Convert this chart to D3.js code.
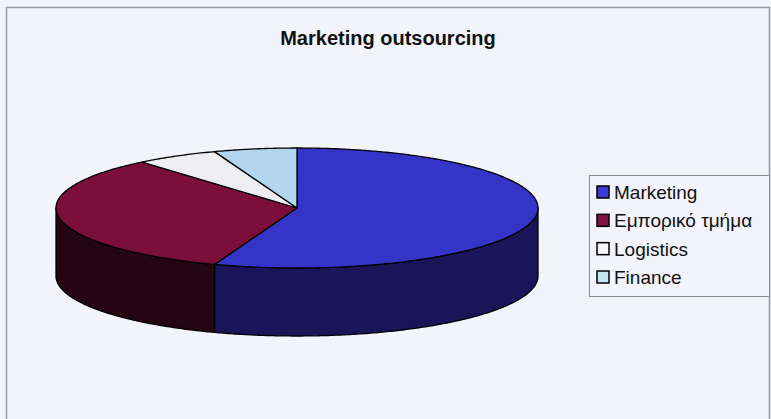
<!DOCTYPE html>
<html>
<head>
<meta charset="utf-8">
<script src="https://cdn.jsdelivr.net/npm/d3@7/dist/d3.min.js"></script>
<style>
  html, body { margin: 0; padding: 0; background: #f2f3fb; }
  svg { display: block; }
  text { font-family: "Liberation Sans", Arial, sans-serif; }
</style>
</head>
<body>
<svg id="chart" width="771" height="419"></svg>
<script>
// Survey answers: which department handles marketing outsourcing
const categories = ["Marketing", "Εμπορικό τμήμα", "Logistics", "Finance"];
const values = [10, 6, 1, 1];
const topColors = ["#3434c8", "#7c0e3a", "#eeeef2", "#b2d6f0"];
const sideColors = ["#1a1558", "#260512", "#9a9aa0", "#6a8aa0"];
const legendColors = ["#3a3ad0", "#801440", "#f4f4f6", "#c2e6f2"];
const title = "Marketing outsourcing";

const svg = d3.select("#chart");
const W = 771, H = 419;

// background and frame
svg.append("rect").attr("width", W).attr("height", H).attr("fill", "#f2f3fb");
svg.append("rect")
  .attr("x", 6.5).attr("y", 7.5).attr("width", 763).attr("height", 420)
  .attr("fill", "none").attr("stroke", "#9a9a9e").attr("stroke-width", 1.5);

svg.append("text")
  .attr("x", 388).attr("y", 45)
  .attr("text-anchor", "middle")
  .attr("font-size", 20).attr("font-weight", "bold")
  .attr("fill", "#111")
  .text(title);

// Tilted pie geometry
const cx = 297, cy = 208, rx = 241, ry = 60, depth = 68;
const pie = d3.pie().sort(null).value(d => d)(values);

const px = a => cx + rx * Math.sin(a);
const py = a => cy - ry * Math.cos(a);

function arcPoints(a0, a1, dy) {
  const n = Math.max(2, Math.ceil(Math.abs(a1 - a0) / 0.01));
  return d3.range(n + 1).map(i => {
    const a = a0 + (a1 - a0) * i / n;
    return [px(a), py(a) + dy];
  });
}

const line = d3.line();
const g = svg.append("g");

// outer walls: only the front half of the rim is visible
pie.forEach((d, i) => {
  const s = Math.max(d.startAngle, Math.PI / 2);
  const e = Math.min(d.endAngle, 3 * Math.PI / 2);
  if (e <= s) return;
  const pts = arcPoints(s, e, 0).concat(arcPoints(e, s, depth));
  g.append("path")
    .attr("d", line(pts) + "Z")
    .attr("fill", sideColors[i])
    .attr("stroke", "#000").attr("stroke-width", 1.3)
    .attr("stroke-linejoin", "round");
});

// top faces
pie.forEach((d, i) => {
  const pts = [[cx, cy]].concat(arcPoints(d.startAngle, d.endAngle, 0));
  g.append("path")
    .attr("d", line(pts) + "Z")
    .attr("fill", topColors[i])
    .attr("stroke", "#000").attr("stroke-width", 1.3)
    .attr("stroke-linejoin", "round");
});

// legend
const lg = svg.append("g");
lg.append("rect")
  .attr("x", 589.5).attr("y", 175.5).attr("width", 180).attr("height", 121)
  .attr("fill", "#f2f3fb").attr("stroke", "#8a8a8e").attr("stroke-width", 1);

const rowY = d3.scalePoint().domain(categories).range([192, 277]);
categories.forEach((c, i) => {
  const y = rowY(c);
  lg.append("rect")
    .attr("x", 597).attr("y", y - 6).attr("width", 12).attr("height", 12)
    .attr("fill", legendColors[i]).attr("stroke", "#000").attr("stroke-width", 1.5);
  lg.append("text")
    .attr("x", 614).attr("y", y + 7)
    .attr("font-size", 19).attr("fill", "#111")
    .text(c);
});
</script>
</body>
</html>
